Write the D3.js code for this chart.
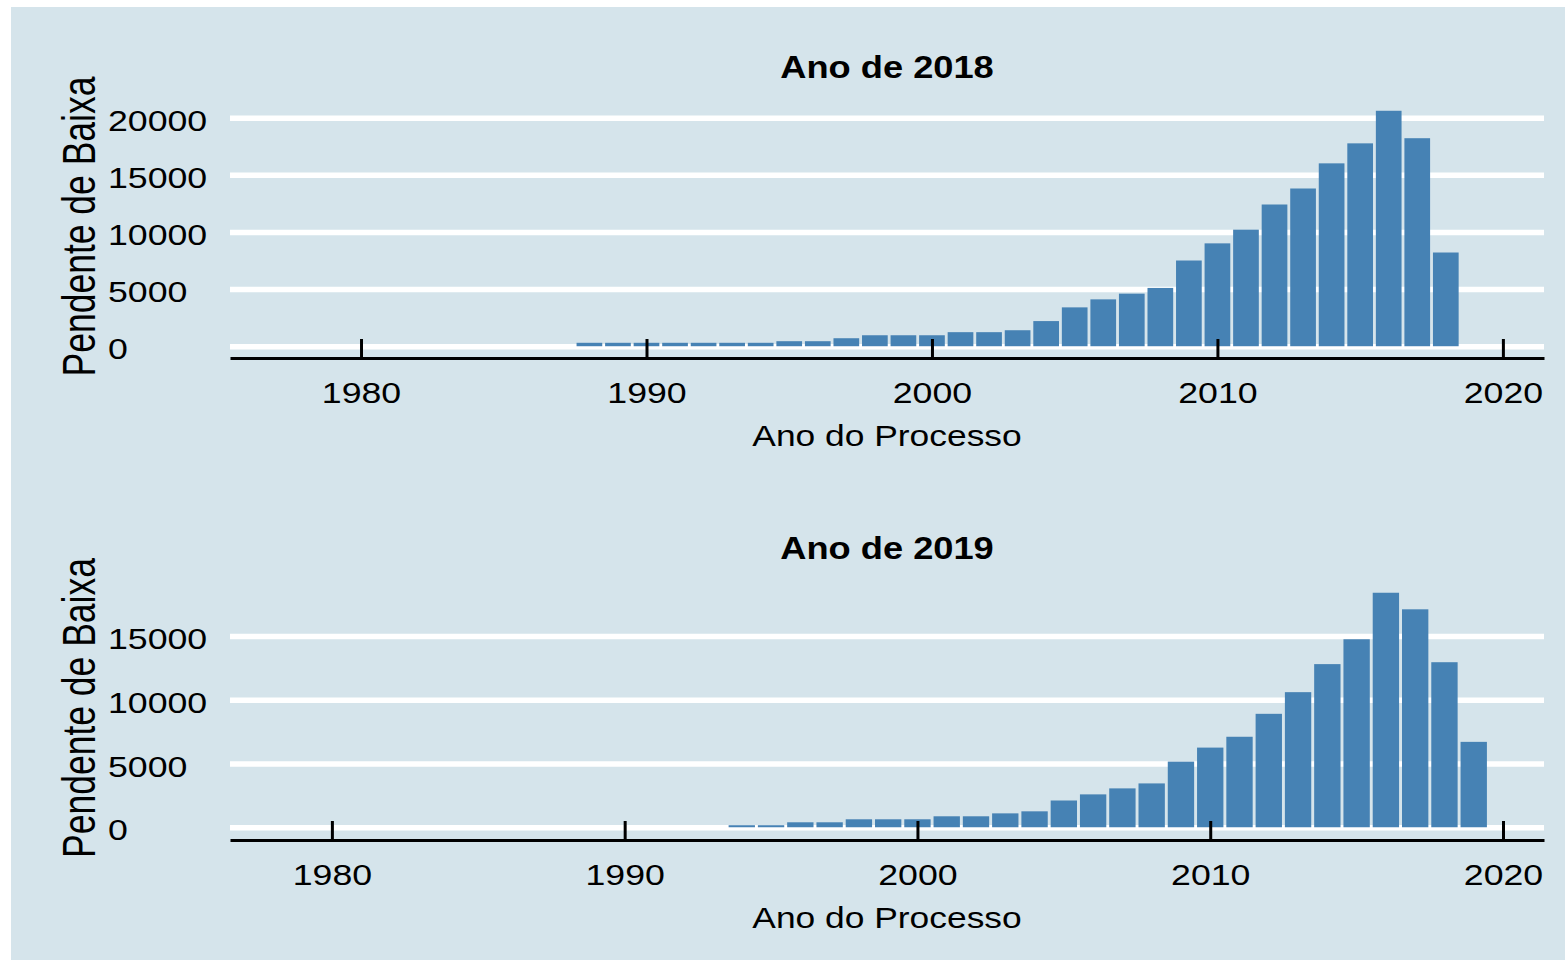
<!DOCTYPE html>
<html lang="pt">
<head>
<meta charset="UTF-8">
<title>Pendente de Baixa por Ano do Processo</title>
<script src="https://cdnjs.cloudflare.com/ajax/libs/d3/7.8.5/d3.min.js"></script>
<style>
  body { margin: 0; background: #fff; }
  svg { display: block; font-family: "Liberation Sans", Arial, sans-serif; }
</style>
</head>
<body>
<svg id="chart" width="1565" height="960"></svg>
<script>
// data
const titles = ["Ano de 2018", "Ano de 2019"];
const xLabel = "Ano do Processo";
const yLabel = "Pendente de Baixa";
const xTicks = [1980, 1990, 2000, 2010, 2020];

const years2018 = [1988, 1989, 1990, 1991, 1992, 1993, 1994, 1995, 1996, 1997, 1998,
  1999, 2000, 2001, 2002, 2003, 2004, 2005, 2006, 2007, 2008, 2009, 2010, 2011,
  2012, 2013, 2014, 2015, 2016, 2017, 2018];
const pend2018 = [300, 300, 300, 300, 300, 300, 300, 440, 440, 700, 960,
  960, 960, 1230, 1230, 1400, 2200, 3400, 4100, 4600, 5100, 7500, 9000, 10200,
  12400, 13800, 16000, 17750, 20600, 18200, 8200];
const yTicks2018 = [0, 5000, 10000, 15000, 20000];

const years2019 = [1994, 1995, 1996, 1997, 1998, 1999, 2000, 2001, 2002, 2003,
  2004, 2005, 2006, 2007, 2008, 2009, 2010, 2011, 2012, 2013, 2014, 2015, 2016,
  2017, 2018, 2019];
const pend2019 = [160, 160, 390, 390, 625, 625, 625, 860, 860, 1090,
  1250, 2100, 2580, 3050, 3440, 5150, 6250, 7100, 8900, 10600, 12800, 14750, 18400,
  17100, 12950, 6700];
const yTicks2019 = [0, 5000, 10000, 15000];

const svg = d3.select("#chart");
const left = 230, right = 1544;
const bg = "#d5e4eb", barColor = "#4682b4";
const sx = 1.23; // text in the reference is stretched sideways

svg.append("rect")
  .attr("x", 11).attr("y", 7)
  .attr("width", 1565 - 11).attr("height", 960 - 7)
  .attr("fill", bg);

const panels = [
  { title: titles[0], years: years2018, values: pend2018, yTicks: yTicks2018,
    xDomain: [1975.41, 2021.44], yDomain: [-1030, 21630], top: 99, bottom: 358 },
  { title: titles[1], years: years2019, values: pend2019, yTicks: yTicks2019,
    xDomain: [1976.52, 2021.4], yDomain: [-1000, 19400], top: 580, bottom: 840 }
];

panels.forEach(p => {
  const x = d3.scaleLinear().domain(p.xDomain).range([left, right]);
  const y = d3.scaleLinear().domain(p.yDomain).range([p.bottom, p.top]);
  const g = svg.append("g");

  // y axis: white grid lines + left-aligned labels
  const yAxis = g.append("g")
    .attr("transform", `translate(${left},0)`)
    .call(d3.axisLeft(y).tickValues(p.yTicks).tickSize(-(right - left)).tickFormat(d3.format("d")));
  yAxis.select(".domain").remove();
  yAxis.selectAll(".tick line").attr("stroke", "#fff").attr("stroke-width", 5.5);
  yAxis.selectAll(".tick text")
    .attr("text-anchor", "start")
    .attr("x", (108 - left) / sx)
    .attr("dy", null).attr("y", 12.5)
    .attr("transform", `scale(${sx},1)`)
    .attr("font-size", 29).attr("fill", "#000");

  // bars
  g.append("g").selectAll("rect")
    .data(p.years.map((yr, i) => ({ yr, v: p.values[i] })))
    .join("rect")
    .attr("x", d => x(d.yr - 0.45))
    .attr("width", d => x(d.yr + 0.45) - x(d.yr - 0.45))
    .attr("y", d => y(d.v))
    .attr("height", d => y(0) - y(d.v))
    .attr("fill", barColor);

  // x axis: black line, ticks pointing up
  const xAxis = g.append("g")
    .attr("transform", `translate(0,${p.bottom})`)
    .call(d3.axisBottom(x).tickValues(xTicks).tickSizeInner(-19).tickSizeOuter(0).tickFormat(d3.format("d")));
  xAxis.select(".domain").attr("stroke", "#000").attr("stroke-width", 3);
  xAxis.selectAll(".tick line").attr("stroke", "#000").attr("stroke-width", 3);
  xAxis.selectAll(".tick text")
    .attr("dy", null).attr("y", 45)
    .attr("transform", `scale(${sx},1)`)
    .attr("font-size", 29).attr("fill", "#000");

  // titles
  g.append("text")
    .attr("transform", `translate(${(left + right) / 2},${p.top - 21}) scale(1.17,1)`)
    .attr("text-anchor", "middle")
    .attr("font-size", 31).attr("font-weight", "bold")
    .text(p.title);

  g.append("text")
    .attr("transform", `translate(${(left + right) / 2},${p.bottom + 88}) scale(1.22,1)`)
    .attr("text-anchor", "middle")
    .attr("font-size", 29)
    .text(xLabel);

  g.append("text")
    .attr("transform", `translate(95,${(p.top + p.bottom) / 2 - 2}) scale(1.3,1) rotate(-90)`)
    .attr("text-anchor", "middle")
    .attr("font-size", 35.5)
    .text(yLabel);
});
</script>
</body>
</html>
